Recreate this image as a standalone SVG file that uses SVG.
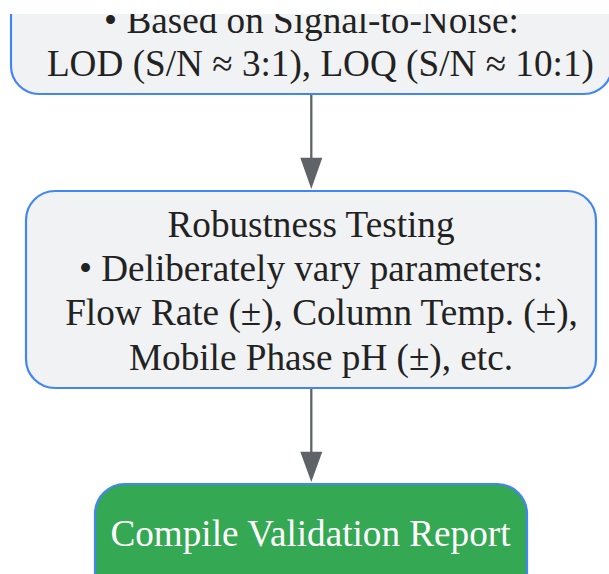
<svg xmlns="http://www.w3.org/2000/svg" width="609" height="574" viewBox="0 0 609 574">
<defs>
<style>
.node rect{fill:#f1f2f4;stroke:#4285f4;stroke-width:2.2}
.node.done rect{fill:#34a853}
.t{font-family:"Liberation Serif","Times New Roman",serif;font-size:37.2px;fill:#222;text-anchor:middle}
.done .t{fill:#ffffff}
.edge{stroke:#5f6368;stroke-width:2.3;fill:none}
.head{fill:#5f6368}
</style>
</defs>
<rect width="609" height="574" fill="#ffffff"/>
<g id="node-lod" class="node">
<rect x="11" y="-120" width="601" height="214" rx="28" ry="28"/>
<text class="t" x="311.5" y="32.5">• Based on Signal-to-Noise:</text>
<text class="t" x="320.4" y="76">LOD (S/N ≈ 3:1), LOQ (S/N ≈ 10:1)</text>
</g>
<g id="node-robustness" class="node">
<rect x="26" y="191" width="570" height="197" rx="29" ry="29"/>
<text class="t" x="311" y="236.5">Robustness Testing</text>
<text class="t" x="311" y="281">• Deliberately vary parameters:</text>
<text class="t" x="321.5" y="325.3">Flow Rate (±), Column Temp. (±),</text>
<text class="t" x="321" y="369.7">Mobile Phase pH (±), etc.</text>
</g>
<g id="node-report" class="node done">
<rect x="95" y="484" width="432" height="130" rx="30" ry="30"/>
<text class="t" x="310.5" y="546">Compile Validation Report</text>
</g>
<g id="connectors">
<line class="edge" x1="311.3" y1="95" x2="311.3" y2="160"/>
<path class="head" d="M300.3,157.7 L322.3,157.7 L311.3,189 Z"/>
<line class="edge" x1="311.3" y1="389" x2="311.3" y2="454"/>
<path class="head" d="M300.3,451.7 L322.3,451.7 L311.3,482 Z"/>
</g>
<rect x="0" y="0" width="609" height="14" fill="#ffffff"/>
</svg>
